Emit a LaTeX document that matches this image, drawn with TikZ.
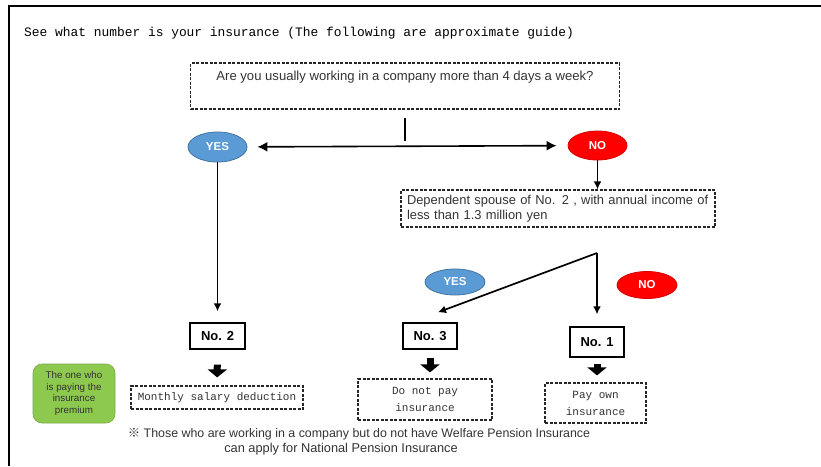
\documentclass[tikz,border=0pt]{standalone}
\usepackage{xcolor}
\usepackage{fontspec}
\setmainfont{Liberation Sans}
\setmonofont{Liberation Mono}
\newfontfamily\cjk{Noto Sans CJK JP}
\usepackage{tikz}
\usetikzlibrary{arrows.meta}
\usetikzlibrary{shapes.geometric}
\usetikzlibrary{positioning}
\definecolor{yesblue}{HTML}{5B9BD5}
\definecolor{nored}{HTML}{FF0000}
\definecolor{paygreen}{HTML}{8DC94E}
\definecolor{txtgray}{HTML}{333333}
\tikzset{>=latex}
\tikzstyle{dbox} = [rectangle, draw=black!85, dash pattern=on 3pt off 1.5pt, line width=1.2pt, inner sep=0]
\tikzstyle{numbox} = [rectangle, draw=black, line width=1.4pt, inner sep=0, font=\bfseries\fontsize{13}{15}\selectfont]
\tikzstyle{yesbub} = [ellipse, fill=yesblue, draw=yesblue!75!black, line width=0.8pt, inner sep=0, text=white, font=\bfseries\fontsize{11.5}{13}\selectfont]
\tikzstyle{nobub} = [ellipse, fill=nored, draw=nored!85!black, line width=0.8pt, inner sep=0, text=white, font=\bfseries\fontsize{11.5}{13}\selectfont]
\tikzstyle{thin} = [-{Latex[length=8pt,width=8pt]}, line width=1.7pt]
\tikzstyle{fat} = [-{Triangle[length=8pt,width=19pt]}, line width=7pt]

\begin{document}
\begin{tikzpicture}[x=1pt, y=-1pt]
\useasboundingbox (0,0) rectangle (821,466);
% frame (cut at right and bottom)
\draw [line width=2pt] (9,466) -- (9,6) -- (821,6);
\node [anchor=west, inner sep=0, font=\ttfamily\fontsize{12.9}{14}\selectfont] (title) at (24,33) {See what number is your insurance (The following are approximate guide)};
% first question
\node [dbox, minimum width=429pt, text height=13pt, text depth=25pt, inner ysep=4pt, text=txtgray, font=\fontsize{13.1}{15}\selectfont] (q) at (405,86) {Are you usually working in a company more than 4 days a week?};
\coordinate (qtick) at (405,141);
\node [yesbub, minimum width=59pt, minimum height=30pt] (yes1) at (217.5,147) {YES};
\node [nobub, minimum width=59pt, minimum height=29pt] (no1) at (597.5,145.5) {NO};
\draw [line width=1.8pt, shorten <=8pt] (q.south) to (qtick);
\draw [{Latex[length=10pt,width=10pt]}-{Latex[length=10pt,width=10pt]}, line width=1.6pt, shorten <=10pt, shorten >=11pt] (yes1) to (no1);
% second question
\node [dbox, minimum width=314pt, minimum height=37pt, inner xsep=6pt, text width=302pt, align=left, text=txtgray, font=\fontsize{12.9}{14.5}\selectfont] (dep) at (558,208.5) {Dependent spouse of No. 2 , with annual income of\\less than 1.3 million yen};
\draw [thin] (no1) to (no1 |- dep.north);
\coordinate (jn) at (597,253);
\node [yesbub, minimum width=60pt, minimum height=26pt] (yes2) at (455,282) {YES};
\node [nobub, minimum width=60pt, minimum height=27pt] (no2) at (647,285) {NO};
% numbers
\node [numbox, minimum width=55pt, minimum height=26pt] (n2) at (217.5,336) {No. 2};
\node [numbox, minimum width=54pt, minimum height=26pt] (n3) at (430,336) {No. 3};
\node [numbox, minimum width=54pt, minimum height=30pt] (n1) at (597,342) {No. 1};
\draw [thin, shorten >=11pt] (yes1) to (yes1 |- n2.north);
\draw [thin] (jn) to ([xshift=8pt, yshift=10pt]n3.north);
\draw [thin, shorten >=12pt] (jn) to (n1.north);
% who pays
\node [rectangle, rounded corners=9pt, fill=paygreen, draw=paygreen!85!black, line width=0.6pt, minimum width=82pt, minimum height=59pt, inner sep=0, align=center, text=txtgray, font=\fontsize{9.8}{11.5}\selectfont] (payer) at (74,393.5) {The one who\\is paying the\\insurance\\premium};
\node [dbox, minimum width=172pt, minimum height=23pt, text=txtgray, font=\ttfamily\fontsize{11}{13}\selectfont] (r2) at (217,397.5) {Monthly salary deduction};
\node [dbox, minimum width=134pt, minimum height=41pt, align=center, text=txtgray, font=\ttfamily\fontsize{11}{17}\selectfont] (r3) at (425,399.5) {Do not pay\\insurance};
\node [dbox, minimum width=101pt, minimum height=40pt, align=center, text=txtgray, font=\ttfamily\fontsize{11}{17}\selectfont] (r1) at (595.5,403) {Pay own\\insurance};
\draw [fat, shorten <=15pt, shorten >=8pt] (n2) to (r2);
\draw [fat, shorten <=8pt, shorten >=6pt] (n3.south) to (n3.south |- r3.north);
\draw [fat, shorten <=6pt, shorten >=7pt] (n1) to (n1 |- r1.north);
% footnote
\node [inner sep=0, text=txtgray, font=\fontsize{12.4}{14}\selectfont] (foot1) at (359,434) {{\cjk ※} Those who are working in a company but do not have Welfare Pension Insurance};
\node [inner sep=0, text=txtgray, font=\fontsize{12.8}{14}\selectfont] (foot2) at (341,449) {can apply for National Pension Insurance};
\end{tikzpicture}
\end{document}
